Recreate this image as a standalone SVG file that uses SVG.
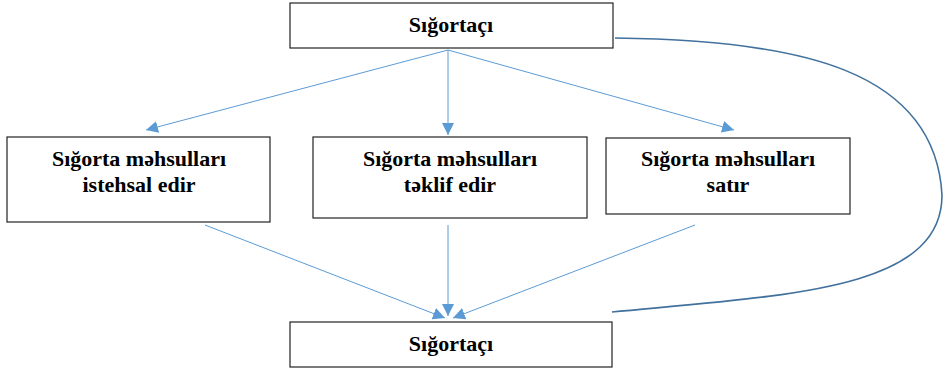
<svg xmlns="http://www.w3.org/2000/svg" width="949" height="369" viewBox="0 0 949 369">
<style>
.box{fill:#fff;stroke:#222;stroke-width:1.2}
.t{font-family:'Liberation Serif','Times New Roman','DejaVu Serif',serif;font-weight:700;font-size:22px;fill:#000;text-anchor:middle}
.c{stroke:#5B9BD5;stroke-width:1;fill:none}
</style>
<defs>
<marker id="a" viewBox="0 0 10 10" refX="10" refY="5" markerWidth="12" markerHeight="12" markerUnits="userSpaceOnUse" orient="auto">
<path d="M0,0 L10,5 L0,10 Z" fill="#5B9BD5"/>
</marker>
</defs>
<g id="connectors">
<line class="c" x1="448" y1="50" x2="146" y2="130" marker-end="url(#a)"/>
<line class="c" x1="448" y1="50" x2="448" y2="135" marker-end="url(#a)"/>
<line class="c" x1="448" y1="50" x2="734" y2="130" marker-end="url(#a)"/>
<line class="c" x1="205" y1="225" x2="445" y2="318" marker-end="url(#a)"/>
<line class="c" x1="448" y1="225" x2="448" y2="316" marker-end="url(#a)"/>
<line class="c" x1="695" y1="225" x2="453" y2="318" marker-end="url(#a)"/>
<path d="M615,38 C800,40 935,70 942,195 C942,290 790,295 612,312" fill="none" stroke="#41719C" stroke-width="1.6"/>
</g>
<g id="top">
<rect class="box" x="290" y="3" width="323" height="45"/>
<text class="t" x="451" y="32">Sığortaçı</text>
</g>
<g id="left">
<rect class="box" x="7" y="137" width="263" height="85"/>
<text class="t" x="139" y="166">Sığorta məhsulları</text>
<text class="t" x="139" y="192">istehsal edir</text>
</g>
<g id="middle">
<rect class="box" x="313" y="137" width="274" height="81"/>
<text class="t" x="450" y="166">Sığorta məhsulları</text>
<text class="t" x="450" y="192">təklif edir</text>
</g>
<g id="right">
<rect class="box" x="606" y="138" width="244" height="76"/>
<text class="t" x="728" y="166">Sığorta məhsulları</text>
<text class="t" x="728" y="192">satır</text>
</g>
<g id="bottom">
<rect class="box" x="290" y="322" width="322" height="45"/>
<text class="t" x="451" y="351">Sığortaçı</text>
</g>
</svg>
